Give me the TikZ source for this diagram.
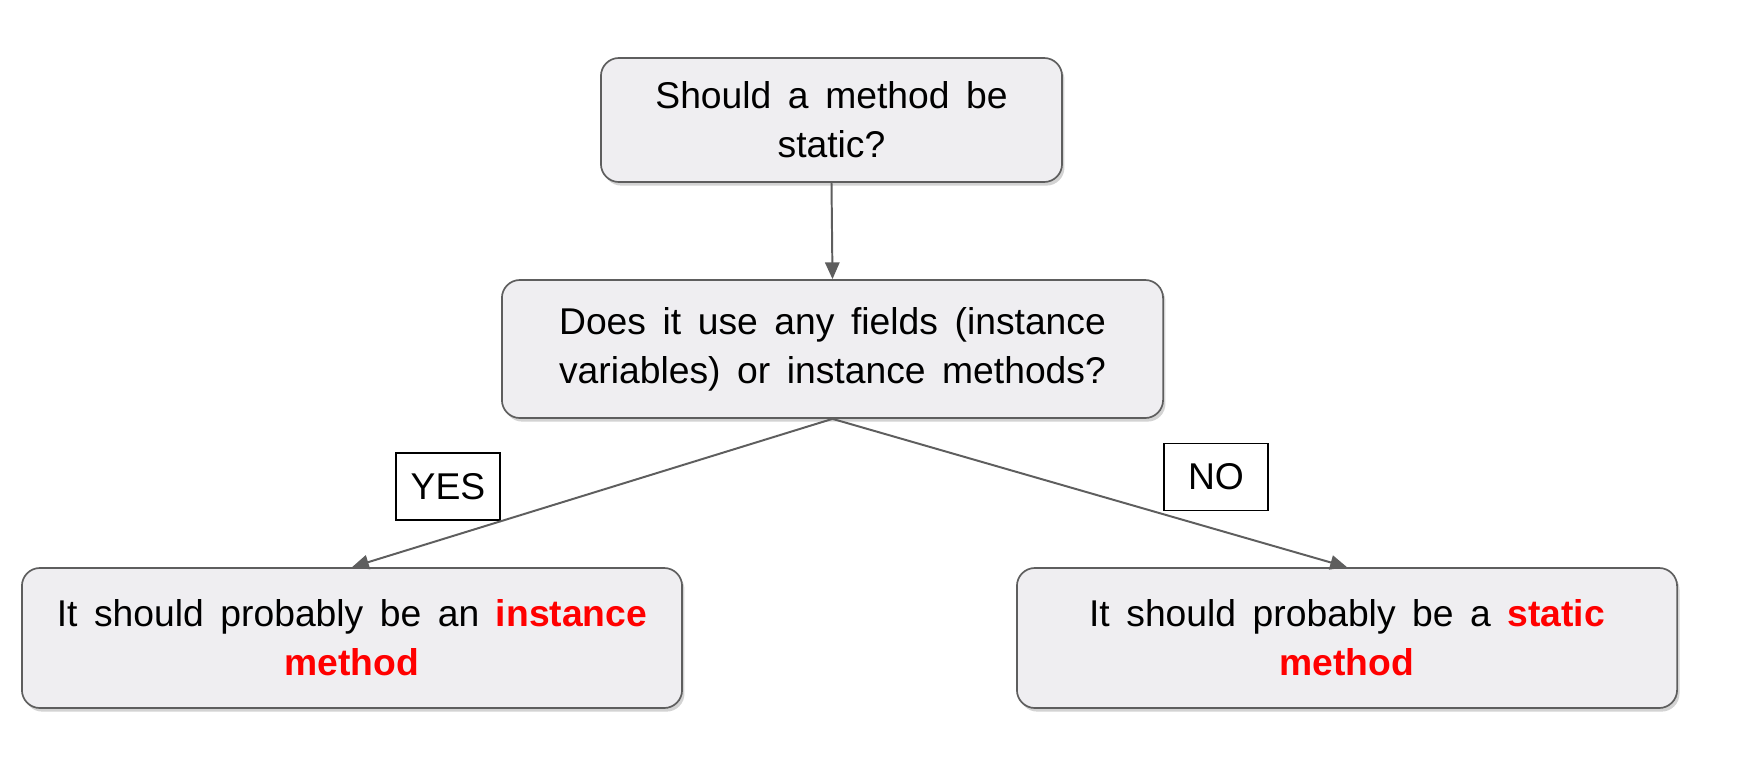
\documentclass[tikz,border=0pt]{standalone}
\usepackage{fontspec}
\setmainfont{Liberation Sans}[WordSpace=1.6]
\usetikzlibrary{arrows.meta,shadows}
\definecolor{boxfill}{HTML}{EFEEF1}
\definecolor{boxline}{HTML}{5E5E5E}
\definecolor{hot}{HTML}{FF0000}
\newcommand{\hl}[1]{\textcolor{hot}{\textbf{#1}}}
\begin{document}
\begin{tikzpicture}
				[x=0.025cm,y=-0.025cm,
				every node/.style={font=\fontsize{26.5}{35}\selectfont,align=center,inner sep=0pt},
				qbox/.style={rounded corners=0.45cm,draw=boxline,line width=1.2pt,fill=boxfill,
					drop shadow={shadow xshift=0.06cm,shadow yshift=-0.09cm,opacity=0.35}},
				tag/.style={draw=black,line width=1.2pt,fill=white,minimum width=2.6cm,minimum height=1.68cm},
				link/.style={draw=boxline,line width=1.4pt,-{Triangle[length=0.42cm,width=0.36cm]}}]
				\useasboundingbox (0,0) rectangle (1758,764);
				\node[qbox,minimum width=11.525cm,minimum height=3.1cm] (q1) at (831.5,120) {Should a method be\\static?};
				\node[qbox,minimum width=16.525cm,minimum height=3.45cm] (q2) at (832.5,349) {Does it use any fields (instance\\variables) or instance methods?};
				\node[qbox,minimum width=16.5cm,minimum height=3.5cm] (a1) at (352,638) {It should probably be an \hl{instance}\\\hl{method}};
				\node[qbox,minimum width=16.5cm,minimum height=3.5cm] (a2) at (1347,638) {It should probably be a \hl{static}\\\hl{method}};
				\node[tag] (yes) at (448,486.5) {YES};
				\node[tag] (no) at (1216,477) {NO};
				
				\foreach \from/\to in {q1/q2,q2/a1,q2/a2}
				\draw[link] (\from.south) -- (\to.north);
				\end{tikzpicture}
\end{document}
